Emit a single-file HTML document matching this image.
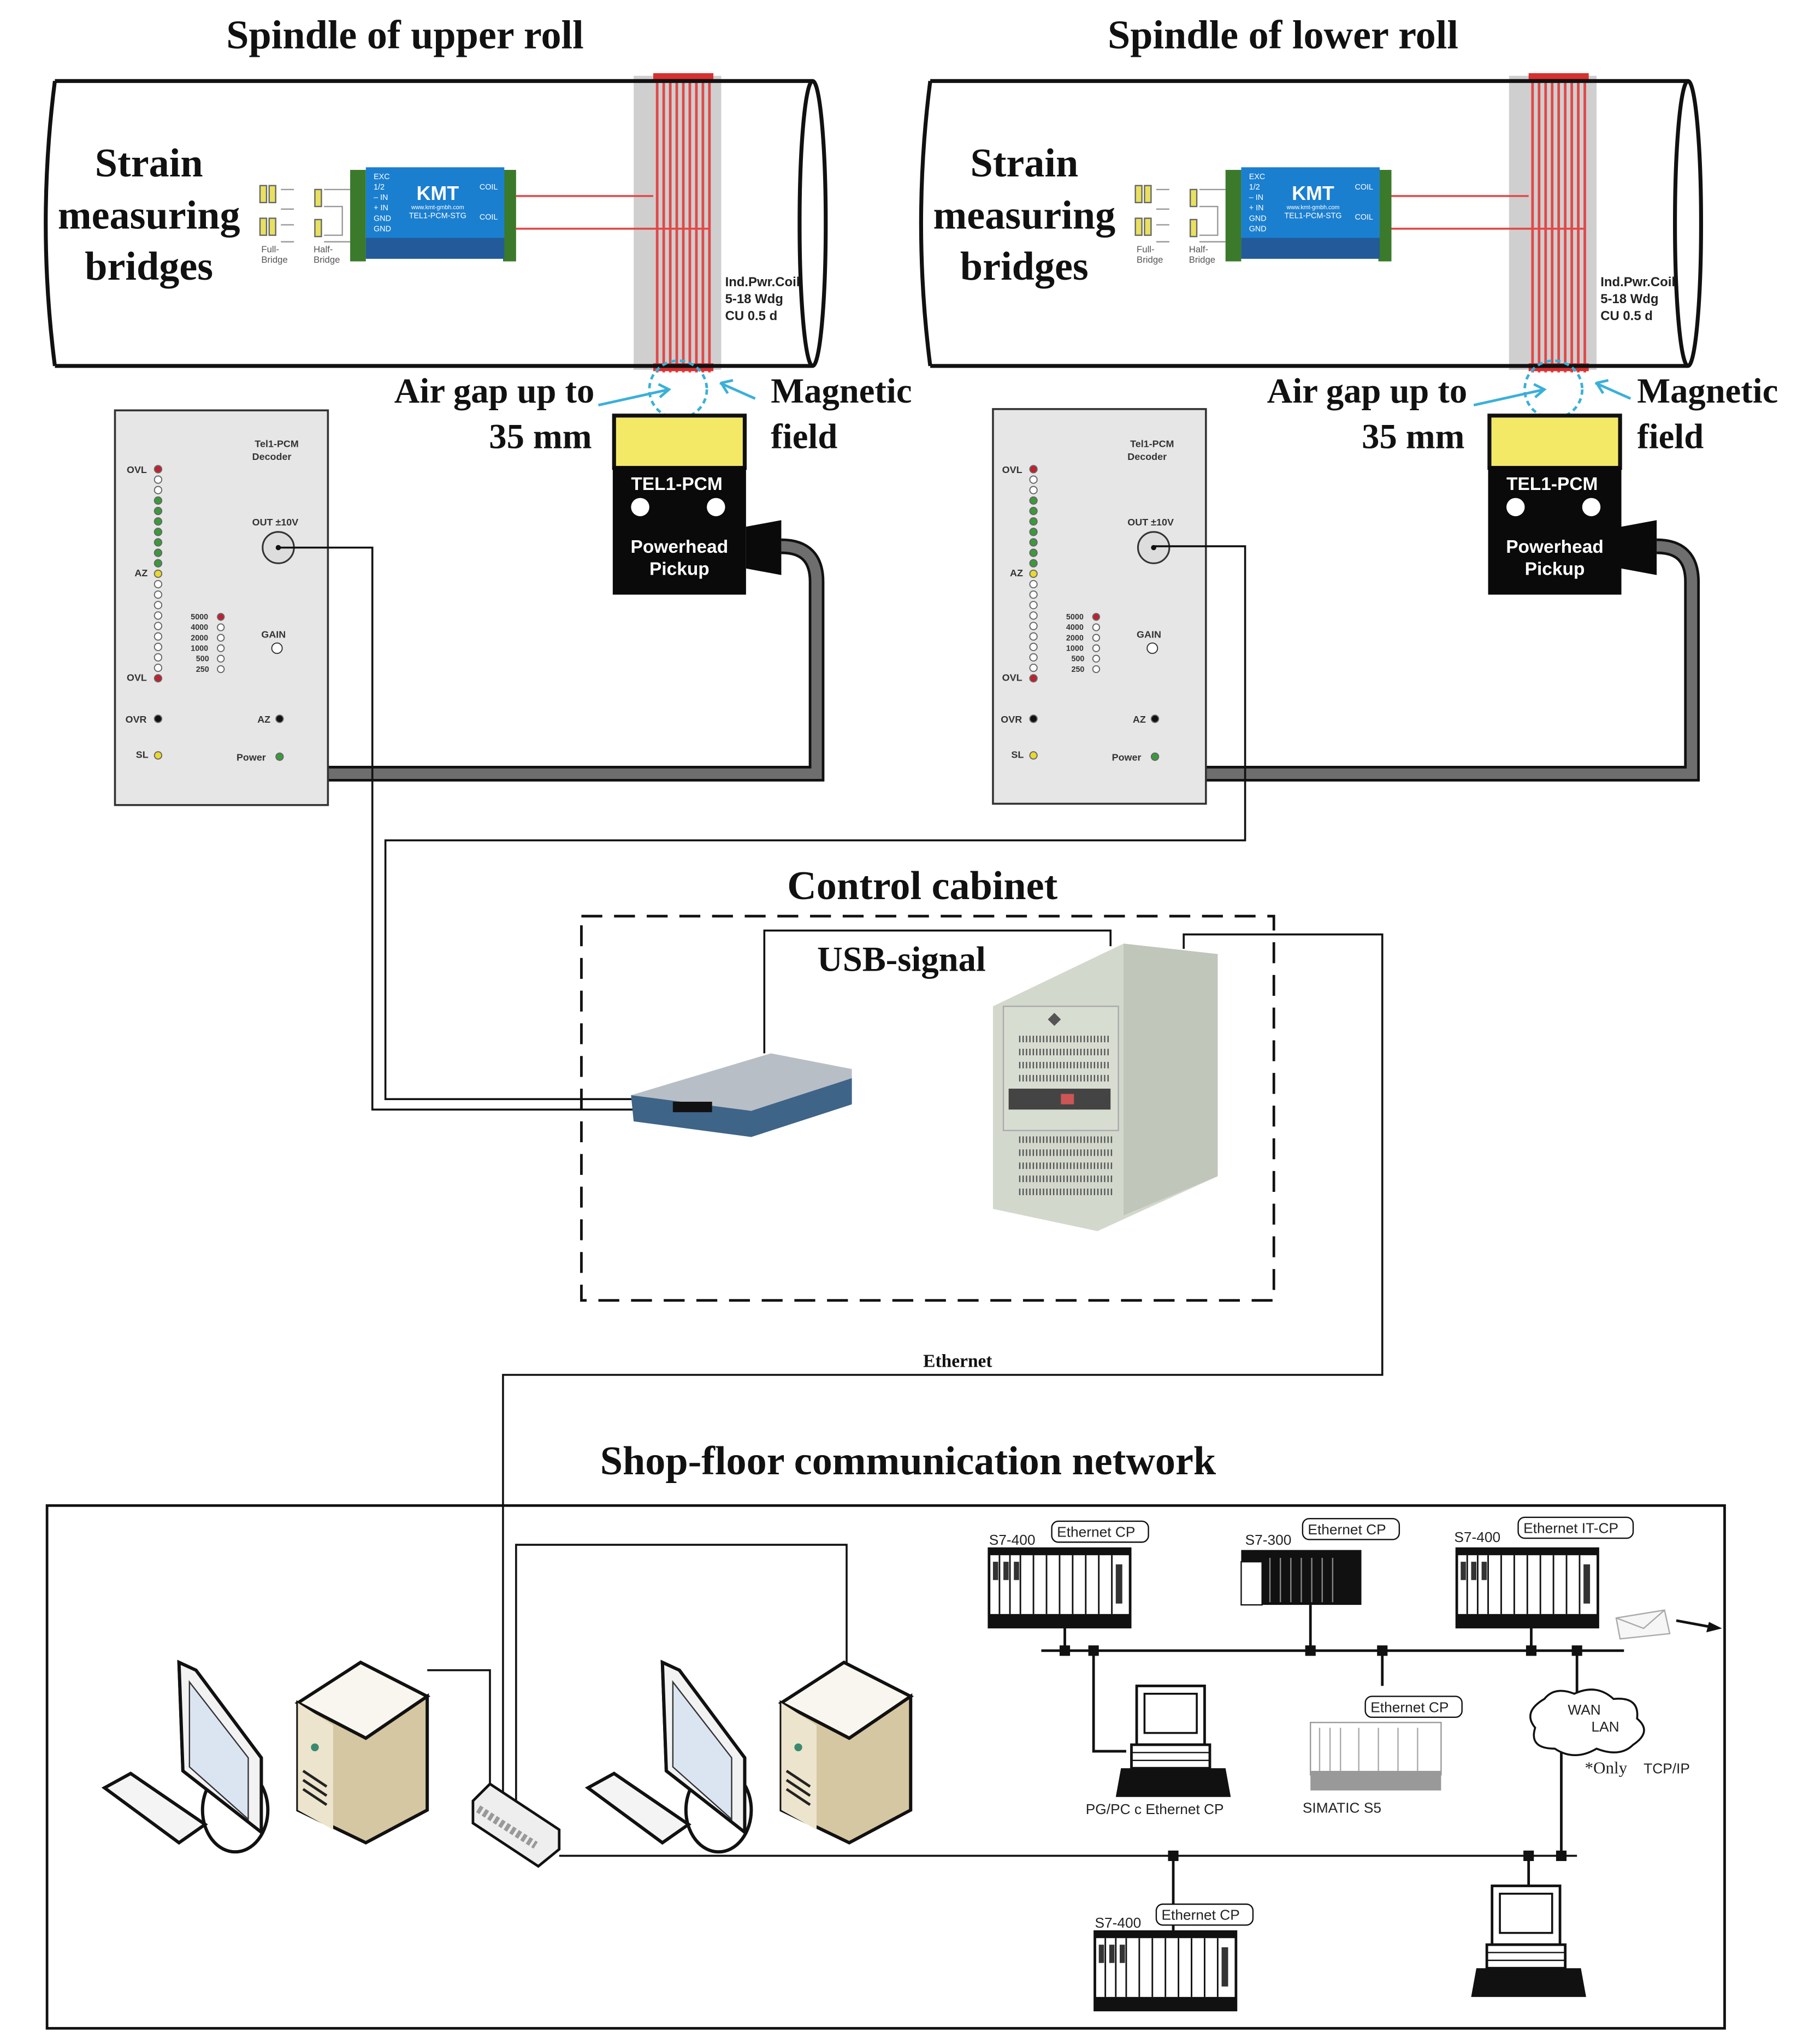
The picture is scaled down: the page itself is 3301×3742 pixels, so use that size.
<!DOCTYPE html>
<html><head><meta charset="utf-8"><style>html,body{margin:0;padding:0;background:#fff}svg{display:block}</style></head>
<body>
<svg width="3301" height="3742" viewBox="0 0 1380 1564" preserveAspectRatio="none" xmlns="http://www.w3.org/2000/svg" font-family="Liberation Sans, sans-serif">
<defs>
<g id="rack"><rect x="0" y="0" width="108" height="60" fill="#fff" stroke="#111" stroke-width="2"/><rect x="0" y="0" width="108" height="5" fill="#111"/><rect x="0" y="50" width="108" height="10" fill="#111"/>
<path d="M8 5V50M16 5V50M24 5V50M34 5V50M44 5V50M54 5V50M64 5V50M74 5V50M84 5V50M94 5V50" stroke="#111" stroke-width="1.2"/>
<rect x="3" y="10" width="4" height="14" fill="#333"/><rect x="11" y="10" width="4" height="14" fill="#333"/><rect x="19" y="10" width="4" height="14" fill="#333"/><rect x="97" y="12" width="5" height="30" fill="#333"/></g>
<g id="oldpc"><rect x="12" y="0" width="52" height="45" fill="#fff" stroke="#111" stroke-width="2"/><rect x="18" y="6" width="40" height="30" fill="#fff" stroke="#111" stroke-width="1.5"/><rect x="8" y="45" width="60" height="18" fill="#fff" stroke="#111" stroke-width="2"/><path d="M8 51H68M8 57H68" stroke="#111"/><polygon points="0,63 80,63 84,85 -4,85" fill="#111"/></g>
</defs>

<!-- titles -->
<g font-family="Liberation Serif, serif" font-weight="bold" fill="#111">
<text x="310" y="37" font-size="31" text-anchor="middle">Spindle of upper  roll</text>
<text x="982" y="37" font-size="31" text-anchor="middle">Spindle of lower roll</text>
</g>

<!-- UPPER ROLL -->
<g>
<rect x="485" y="58" width="67" height="225" fill="#cfcfcf"/>
<path d="M503 58V285M508 58V285M513 58V285M518 58V285M523 58V285M528 58V285M533 58V285M538 58V285M543 58V285" stroke="#e24848" stroke-width="2"/>
<rect x="500" y="56" width="46" height="6" fill="#d83030"/><rect x="500" y="278" width="46" height="6" fill="#d83030"/>
<path d="M42 62H622M42 280H622" stroke="#111" stroke-width="3"/>
<path d="M42 62Q28 171 42 280" fill="none" stroke="#111" stroke-width="3"/>
<ellipse cx="622" cy="171" rx="10" ry="109" fill="none" stroke="#111" stroke-width="3"/>
<g font-family="Liberation Serif, serif" font-weight="bold" font-size="31" fill="#111" text-anchor="middle">
<text x="114" y="135">Strain</text><text x="114" y="175">measuring</text><text x="114" y="214">bridges</text></g>
<g fill="#e8e060" stroke="#666" stroke-width="1"><rect x="199" y="142" width="5" height="13"/><rect x="206" y="142" width="5" height="13"/><rect x="199" y="167" width="5" height="13"/><rect x="206" y="167" width="5" height="13"/><rect x="241" y="145" width="5" height="13"/><rect x="241" y="168" width="5" height="13"/></g>
<path d="M215 145H225M215 160H225M215 172H225M215 185H225M248 145H268M248 158H262V180H248M248 185H268" stroke="#999" fill="none"/>
<text x="200" y="193" font-size="7" fill="#555">Full-</text><text x="240" y="193" font-size="7" fill="#555">Half-</text>
<text x="200" y="201" font-size="7" fill="#555">Bridge</text><text x="240" y="201" font-size="7" fill="#555">Bridge</text>
<rect x="268" y="130" width="12" height="70" fill="#3a7a2a"/><rect x="385" y="130" width="10" height="70" fill="#3a7a2a"/>
<rect x="280" y="128" width="106" height="70" fill="#1b7fd0"/><rect x="280" y="182" width="106" height="16" fill="#235a9a"/>
<g fill="#fff" font-size="6"><text x="286" y="137">EXC</text><text x="286" y="145">1/2</text><text x="286" y="153">– IN</text><text x="286" y="161">+ IN</text><text x="286" y="169">GND</text><text x="286" y="177">GND</text><text x="367" y="145">COIL</text><text x="367" y="168">COIL</text>
<text x="335" y="153" font-size="15" font-weight="bold" text-anchor="middle">KMT</text><text x="335" y="160" font-size="4.5" text-anchor="middle">www.kmt-gmbh.com</text><text x="335" y="167" font-size="6" text-anchor="middle">TEL1-PCM-STG</text></g>
<path d="M395 150H500M395 175H542" stroke="#e24848" stroke-width="1.5" fill="none"/>
<g font-size="10" font-weight="bold" fill="#222"><text x="555" y="219">Ind.Pwr.Coil</text><text x="555" y="232">5-18 Wdg</text><text x="555" y="245">CU 0.5 d</text></g>
<circle cx="519" cy="298" r="22" fill="none" stroke="#3ab0d8" stroke-width="2" stroke-dasharray="4 3"/>
<path d="M458 310L512 298M504 294L512 298L505 304M578 305L551 293M552 293L561 291M552 293L557 301" stroke="#3ab0d8" stroke-width="2" fill="none"/>
<g font-family="Liberation Serif, serif" font-weight="bold" font-size="27" fill="#111"><text x="455" y="308" text-anchor="end">Air gap up to</text><text x="453" y="343" text-anchor="end">35 mm</text><text x="590" y="308">Magnetic</text><text x="590" y="343">field</text></g>
<rect x="470" y="318" width="100" height="40" fill="#f4e867" stroke="#111" stroke-width="3"/>
<rect x="469" y="357" width="102" height="98" fill="#0a0a0a"/>
<text x="518" y="375" fill="#fff" font-size="14" font-weight="bold" text-anchor="middle">TEL1-PCM</text>
<circle cx="490" cy="388" r="7" fill="#fff"/><circle cx="548" cy="388" r="7" fill="#fff"/>
<text x="520" y="423" fill="#fff" font-size="14" font-weight="bold" text-anchor="middle">Powerhead</text><text x="520" y="440" fill="#fff" font-size="14" font-weight="bold" text-anchor="middle">Pickup</text>
<polygon points="571,403 598,398 598,440 571,435" fill="#0a0a0a"/>
<path d="M598 418Q625 418 625 445V592H250" fill="none" stroke="#111" stroke-width="12"/>
<path d="M598 418Q625 418 625 445V592H250" fill="none" stroke="#6e6e6e" stroke-width="8"/>
<rect x="88" y="314" width="163" height="302" fill="#e6e6e6" stroke="#333" stroke-width="1.5"/>
<g font-size="7.5" font-weight="bold" fill="#333"><text x="195" y="342">Tel1-PCM</text><text x="193" y="352">Decoder</text><text x="97" y="362">OVL</text><text x="103" y="441">AZ</text><text x="97" y="521">OVL</text><text x="193" y="402">OUT ±10V</text><text x="200" y="488">GAIN</text><text x="96" y="553">OVR</text><text x="197" y="553">AZ</text><text x="104" y="580">SL</text><text x="181" y="582">Power</text>
<text x="146" y="474" font-size="6">5000</text><text x="146" y="482" font-size="6">4000</text><text x="146" y="490" font-size="6">2000</text><text x="146" y="498" font-size="6">1000</text><text x="150" y="506" font-size="6">500</text><text x="150" y="514" font-size="6">250</text></g>
<g stroke="#666" stroke-width="0.8" fill="#fff"><circle cx="121" cy="359" r="2.8" fill="#c02030"/><circle cx="121" cy="367" r="2.8"/><circle cx="121" cy="375" r="2.8"/><circle cx="121" cy="383" r="2.8" fill="#3a9a3a"/><circle cx="121" cy="391" r="2.8" fill="#3a9a3a"/><circle cx="121" cy="399" r="2.8" fill="#3a9a3a"/><circle cx="121" cy="407" r="2.8" fill="#3a9a3a"/><circle cx="121" cy="415" r="2.8" fill="#3a9a3a"/><circle cx="121" cy="423" r="2.8" fill="#3a9a3a"/><circle cx="121" cy="431" r="2.8" fill="#3a9a3a"/><circle cx="121" cy="439" r="2.8" fill="#e8d830"/><circle cx="121" cy="447" r="2.8"/><circle cx="121" cy="455" r="2.8"/><circle cx="121" cy="463" r="2.8"/><circle cx="121" cy="471" r="2.8"/><circle cx="121" cy="479" r="2.8"/><circle cx="121" cy="487" r="2.8"/><circle cx="121" cy="495" r="2.8"/><circle cx="121" cy="503" r="2.8"/><circle cx="121" cy="511" r="2.8"/><circle cx="121" cy="519" r="2.8" fill="#c02030"/>
<circle cx="169" cy="472" r="2.6" fill="#c02030"/><circle cx="169" cy="480" r="2.6"/><circle cx="169" cy="488" r="2.6"/><circle cx="169" cy="496" r="2.6"/><circle cx="169" cy="504" r="2.6"/><circle cx="169" cy="512" r="2.6"/>
<circle cx="121" cy="550" r="2.8" fill="#111"/><circle cx="214" cy="550" r="2.8" fill="#111"/><circle cx="121" cy="578" r="2.8" fill="#e8d830"/><circle cx="214" cy="579" r="2.8" fill="#3a9a3a"/>
<circle cx="213" cy="419" r="12" fill="#ddd" stroke="#333" stroke-width="1.3"/><circle cx="212" cy="496" r="4" stroke="#333"/></g>
<circle cx="213" cy="419" r="2" fill="#111"/>
</g>

<!-- LOWER ROLL -->
<g transform="translate(670,0)">
<rect x="485" y="58" width="67" height="225" fill="#cfcfcf"/>
<path d="M503 58V285M508 58V285M513 58V285M518 58V285M523 58V285M528 58V285M533 58V285M538 58V285M543 58V285" stroke="#e24848" stroke-width="2"/>
<rect x="500" y="56" width="46" height="6" fill="#d83030"/><rect x="500" y="278" width="46" height="6" fill="#d83030"/>
<path d="M42 62H622M42 280H622" stroke="#111" stroke-width="3"/>
<path d="M42 62Q28 171 42 280" fill="none" stroke="#111" stroke-width="3"/>
<ellipse cx="622" cy="171" rx="10" ry="109" fill="none" stroke="#111" stroke-width="3"/>
<g font-family="Liberation Serif, serif" font-weight="bold" font-size="31" fill="#111" text-anchor="middle">
<text x="114" y="135">Strain</text><text x="114" y="175">measuring</text><text x="114" y="214">bridges</text></g>
<g fill="#e8e060" stroke="#666" stroke-width="1"><rect x="199" y="142" width="5" height="13"/><rect x="206" y="142" width="5" height="13"/><rect x="199" y="167" width="5" height="13"/><rect x="206" y="167" width="5" height="13"/><rect x="241" y="145" width="5" height="13"/><rect x="241" y="168" width="5" height="13"/></g>
<path d="M215 145H225M215 160H225M215 172H225M215 185H225M248 145H268M248 158H262V180H248M248 185H268" stroke="#999" fill="none"/>
<text x="200" y="193" font-size="7" fill="#555">Full-</text><text x="240" y="193" font-size="7" fill="#555">Half-</text>
<text x="200" y="201" font-size="7" fill="#555">Bridge</text><text x="240" y="201" font-size="7" fill="#555">Bridge</text>
<rect x="268" y="130" width="12" height="70" fill="#3a7a2a"/><rect x="385" y="130" width="10" height="70" fill="#3a7a2a"/>
<rect x="280" y="128" width="106" height="70" fill="#1b7fd0"/><rect x="280" y="182" width="106" height="16" fill="#235a9a"/>
<g fill="#fff" font-size="6"><text x="286" y="137">EXC</text><text x="286" y="145">1/2</text><text x="286" y="153">– IN</text><text x="286" y="161">+ IN</text><text x="286" y="169">GND</text><text x="286" y="177">GND</text><text x="367" y="145">COIL</text><text x="367" y="168">COIL</text>
<text x="335" y="153" font-size="15" font-weight="bold" text-anchor="middle">KMT</text><text x="335" y="160" font-size="4.5" text-anchor="middle">www.kmt-gmbh.com</text><text x="335" y="167" font-size="6" text-anchor="middle">TEL1-PCM-STG</text></g>
<path d="M395 150H500M395 175H542" stroke="#e24848" stroke-width="1.5" fill="none"/>
<g font-size="10" font-weight="bold" fill="#222"><text x="555" y="219">Ind.Pwr.Coil</text><text x="555" y="232">5-18 Wdg</text><text x="555" y="245">CU 0.5 d</text></g>
<circle cx="519" cy="298" r="22" fill="none" stroke="#3ab0d8" stroke-width="2" stroke-dasharray="4 3"/>
<path d="M458 310L512 298M504 294L512 298L505 304M578 305L551 293M552 293L561 291M552 293L557 301" stroke="#3ab0d8" stroke-width="2" fill="none"/>
<g font-family="Liberation Serif, serif" font-weight="bold" font-size="27" fill="#111"><text x="453" y="308" text-anchor="end">Air gap up to</text><text x="451" y="343" text-anchor="end">35 mm</text><text x="583" y="308">Magnetic</text><text x="583" y="343">field</text></g>
<rect x="470" y="318" width="100" height="40" fill="#f4e867" stroke="#111" stroke-width="3"/>
<rect x="469" y="357" width="102" height="98" fill="#0a0a0a"/>
<text x="518" y="375" fill="#fff" font-size="14" font-weight="bold" text-anchor="middle">TEL1-PCM</text>
<circle cx="490" cy="388" r="7" fill="#fff"/><circle cx="548" cy="388" r="7" fill="#fff"/>
<text x="520" y="423" fill="#fff" font-size="14" font-weight="bold" text-anchor="middle">Powerhead</text><text x="520" y="440" fill="#fff" font-size="14" font-weight="bold" text-anchor="middle">Pickup</text>
<polygon points="571,403 598,398 598,440 571,435" fill="#0a0a0a"/>
<path d="M598 418Q625 418 625 445V592H250" fill="none" stroke="#111" stroke-width="12"/>
<path d="M598 418Q625 418 625 445V592H250" fill="none" stroke="#6e6e6e" stroke-width="8"/>
<rect x="90" y="313" width="163" height="302" fill="#e6e6e6" stroke="#333" stroke-width="1.5"/>
<g font-size="7.5" font-weight="bold" fill="#333"><text x="195" y="342">Tel1-PCM</text><text x="193" y="352">Decoder</text><text x="97" y="362">OVL</text><text x="103" y="441">AZ</text><text x="97" y="521">OVL</text><text x="193" y="402">OUT ±10V</text><text x="200" y="488">GAIN</text><text x="96" y="553">OVR</text><text x="197" y="553">AZ</text><text x="104" y="580">SL</text><text x="181" y="582">Power</text>
<text x="146" y="474" font-size="6">5000</text><text x="146" y="482" font-size="6">4000</text><text x="146" y="490" font-size="6">2000</text><text x="146" y="498" font-size="6">1000</text><text x="150" y="506" font-size="6">500</text><text x="150" y="514" font-size="6">250</text></g>
<g stroke="#666" stroke-width="0.8" fill="#fff"><circle cx="121" cy="359" r="2.8" fill="#c02030"/><circle cx="121" cy="367" r="2.8"/><circle cx="121" cy="375" r="2.8"/><circle cx="121" cy="383" r="2.8" fill="#3a9a3a"/><circle cx="121" cy="391" r="2.8" fill="#3a9a3a"/><circle cx="121" cy="399" r="2.8" fill="#3a9a3a"/><circle cx="121" cy="407" r="2.8" fill="#3a9a3a"/><circle cx="121" cy="415" r="2.8" fill="#3a9a3a"/><circle cx="121" cy="423" r="2.8" fill="#3a9a3a"/><circle cx="121" cy="431" r="2.8" fill="#3a9a3a"/><circle cx="121" cy="439" r="2.8" fill="#e8d830"/><circle cx="121" cy="447" r="2.8"/><circle cx="121" cy="455" r="2.8"/><circle cx="121" cy="463" r="2.8"/><circle cx="121" cy="471" r="2.8"/><circle cx="121" cy="479" r="2.8"/><circle cx="121" cy="487" r="2.8"/><circle cx="121" cy="495" r="2.8"/><circle cx="121" cy="503" r="2.8"/><circle cx="121" cy="511" r="2.8"/><circle cx="121" cy="519" r="2.8" fill="#c02030"/>
<circle cx="169" cy="472" r="2.6" fill="#c02030"/><circle cx="169" cy="480" r="2.6"/><circle cx="169" cy="488" r="2.6"/><circle cx="169" cy="496" r="2.6"/><circle cx="169" cy="504" r="2.6"/><circle cx="169" cy="512" r="2.6"/>
<circle cx="121" cy="550" r="2.8" fill="#111"/><circle cx="214" cy="550" r="2.8" fill="#111"/><circle cx="121" cy="578" r="2.8" fill="#e8d830"/><circle cx="214" cy="579" r="2.8" fill="#3a9a3a"/>
<circle cx="213" cy="419" r="12" fill="#ddd" stroke="#333" stroke-width="1.3"/><circle cx="212" cy="496" r="4" stroke="#333"/></g>
<circle cx="213" cy="419" r="2" fill="#111"/>
</g>

<!-- signal wires -->
<g fill="none" stroke="#111" stroke-width="1.5">
<path d="M213 419H285V849H485"/>
<path d="M883 418H953V643H295V841H485"/>
<path d="M585 806V712H850V724"/>
<path d="M906 726V715H1058V1052H385V1380"/>
<path d="M395 1385V1182H648V1275"/>
<path d="M327 1278H375V1372"/>
<path d="M428 1420H1207"/>
</g>

<!-- control cabinet -->
<text x="706" y="688" font-family="Liberation Serif, serif" font-weight="bold" font-size="31" text-anchor="middle" fill="#111">Control cabinet</text>
<rect x="445" y="701" width="530" height="294" fill="none" stroke="#111" stroke-width="2" stroke-dasharray="16 9"/>
<text x="690" y="743" font-family="Liberation Serif, serif" font-weight="bold" font-size="27" text-anchor="middle" fill="#111">USB-signal</text>
<polygon points="483,838 590,806 652,818 652,845 575,870 485,858" fill="#b8bec6"/>
<polygon points="483,838 575,850 652,825 652,845 575,870 485,858" fill="#3e6488"/>
<rect x="515" y="843" width="30" height="8" fill="#111"/>
<polygon points="760,770 860,722 932,730 932,900 840,942 760,925" fill="#d2d8cc"/>
<polygon points="860,722 932,730 932,900 860,930" fill="#c0c6ba"/>
<rect x="768" y="770" width="88" height="95" fill="#d8ddd2" stroke="#aaa"/>
<path d="M780 795H850M780 805H850M780 815H850M780 825H850M780 872H852M780 882H852M780 892H852M780 902H852M780 912H852" stroke="#555" stroke-width="5" stroke-dasharray="1 1.6"/>
<rect x="772" y="833" width="78" height="16" fill="#444"/><rect x="812" y="837" width="10" height="8" fill="#c55"/>
<polygon points="807,775 812,780 807,785 802,780" fill="#555"/>

<text x="733" y="1046" font-family="Liberation Serif, serif" font-weight="bold" font-size="14" text-anchor="middle" fill="#111">Ethernet</text>
<text x="695" y="1128" font-family="Liberation Serif, serif" font-weight="bold" font-size="31" text-anchor="middle" fill="#111">Shop-floor communication network</text>
<rect x="36" y="1152" width="1284" height="400" fill="none" stroke="#111" stroke-width="2"/>

<!-- office computers -->
<g id="ws1">
<polygon points="137,1272 150,1278 200,1345 200,1402 140,1355" fill="#f2f2f2" stroke="#111" stroke-width="2.5"/>
<polygon points="145,1287 190,1345 190,1392 145,1352" fill="#dbe5f2" stroke="#333"/>
<ellipse cx="180" cy="1385" rx="25" ry="32" fill="#fff" stroke="#111" stroke-width="2.5"/>
<polygon points="137,1272 150,1278 200,1345 200,1402 140,1355" fill="#f2f2f2" stroke="#111" stroke-width="2.5"/>
<polygon points="145,1287 190,1345 190,1392 145,1352" fill="#dbe5f2" stroke="#333"/>
<polygon points="80,1368 100,1357 157,1396 137,1410" fill="#f4f4f4" stroke="#111" stroke-width="2.5"/>
<polygon points="228,1303 276,1272 327,1298 280,1330" fill="#f8f6ee" stroke="#111" stroke-width="2.5"/>
<polygon points="228,1303 280,1330 327,1298 327,1385 280,1410 228,1385" fill="#d5c7a2" stroke="#111" stroke-width="2.5"/>
<polygon points="228,1303 255,1320 255,1400 228,1385" fill="#ece4cc"/>
<circle cx="241" cy="1337" r="3" fill="#3a8a70"/>
<path d="M232 1355L250 1367M232 1362L250 1374M232 1369L250 1381" stroke="#222" stroke-width="2"/>
</g>
<g transform="translate(370,0)">
<polygon points="137,1272 150,1278 200,1345 200,1402 140,1355" fill="#f2f2f2" stroke="#111" stroke-width="2.5"/>
<ellipse cx="180" cy="1385" rx="25" ry="32" fill="#fff" stroke="#111" stroke-width="2.5"/>
<polygon points="137,1272 150,1278 200,1345 200,1402 140,1355" fill="#f2f2f2" stroke="#111" stroke-width="2.5"/>
<polygon points="145,1287 190,1345 190,1392 145,1352" fill="#dbe5f2" stroke="#333"/>
<polygon points="80,1368 100,1357 157,1396 137,1410" fill="#f4f4f4" stroke="#111" stroke-width="2.5"/>
<polygon points="228,1303 276,1272 327,1298 280,1330" fill="#f8f6ee" stroke="#111" stroke-width="2.5"/>
<polygon points="228,1303 280,1330 327,1298 327,1385 280,1410 228,1385" fill="#d5c7a2" stroke="#111" stroke-width="2.5"/>
<polygon points="228,1303 255,1320 255,1400 228,1385" fill="#ece4cc"/>
<circle cx="241" cy="1337" r="3" fill="#3a8a70"/>
<path d="M232 1355L250 1367M232 1362L250 1374M232 1369L250 1381" stroke="#222" stroke-width="2"/>
</g>
<polygon points="362,1378 375,1365 428,1400 428,1415 412,1428 362,1395" fill="#eee" stroke="#111" stroke-width="2"/>
<path d="M366 1384L410 1412" stroke="#999" stroke-width="6" stroke-dasharray="3 2"/>

<!-- industrial network -->
<g fill="none" stroke="#111" stroke-width="2">
<path d="M797 1263H1243"/>
<path d="M815 1245V1263M837 1263V1340H862M1003 1228V1263M1058 1263V1290M1172 1245V1263M1207 1263V1295M1195 1340V1420M898 1420V1483M1170 1420V1446"/>
</g>
<g fill="#111"><rect x="811" y="1259" width="8" height="8"/><rect x="833" y="1259" width="8" height="8"/><rect x="999" y="1259" width="8" height="8"/><rect x="1054" y="1259" width="8" height="8"/><rect x="1168" y="1259" width="8" height="8"/><rect x="1203" y="1259" width="8" height="8"/><rect x="894" y="1416" width="8" height="8"/><rect x="1166" y="1416" width="8" height="8"/><rect x="1191" y="1416" width="8" height="8"/></g>
<use href="#rack" x="757" y="1185"/>
<use href="#rack" x="1115" y="1185"/>
<use href="#rack" x="838" y="1478"/>
<rect x="950" y="1186" width="92" height="42" fill="#111"/><rect x="950" y="1195" width="16" height="33" fill="#fff" stroke="#111"/>
<path d="M972 1192V1226M980 1192V1226M988 1192V1226M996 1192V1226M1004 1192V1226M1012 1192V1226M1020 1192V1226" stroke="#888" stroke-width="1"/>
<rect x="1003" y="1318" width="100" height="40" fill="#fff" stroke="#999"/><rect x="1003" y="1355" width="100" height="15" fill="#999"/>
<path d="M1010 1322V1355M1018 1322V1355M1026 1322V1355M1040 1322V1355M1055 1322V1355M1070 1322V1355M1085 1322V1355" stroke="#aaa"/>
<use href="#oldpc" x="858" y="1290"/>
<use href="#oldpc" x="1130" y="1443"/>
<path d="M1182 1300Q1190 1290 1205 1296Q1222 1288 1235 1300Q1255 1298 1253 1315Q1265 1325 1250 1335Q1240 1345 1222 1338Q1205 1348 1190 1338Q1170 1338 1175 1322Q1165 1310 1182 1300Z" fill="#fff" stroke="#111" stroke-width="1.5"/>
<g font-size="11" fill="#222"><text x="1200" y="1312">WAN</text><text x="1218" y="1325">LAN</text>
<text x="757" y="1182">S7-400</text><text x="953" y="1182">S7-300</text><text x="1113" y="1180">S7-400</text><text x="838" y="1475">S7-400</text>
<text x="831" y="1388">PG/PC c Ethernet CP</text><text x="997" y="1387">SIMATIC S5</text><text x="1258" y="1357">TCP/IP</text></g>
<text x="1213" y="1357" font-family="Liberation Serif, serif" font-size="13" fill="#222">*Only</text>
<g font-size="11" fill="#222" stroke="#111" stroke-width="1">
<rect x="805" y="1164" width="74" height="16" rx="5" fill="#fff"/><rect x="997" y="1162" width="74" height="16" rx="5" fill="#fff"/><rect x="1162" y="1161" width="88" height="16" rx="5" fill="#fff"/><rect x="1045" y="1298" width="74" height="16" rx="5" fill="#fff"/><rect x="885" y="1457" width="74" height="16" rx="5" fill="#fff"/></g>
<g font-size="11" fill="#222"><text x="809" y="1176">Ethernet CP</text><text x="1001" y="1174">Ethernet CP</text><text x="1166" y="1173">Ethernet IT-CP</text><text x="1049" y="1310">Ethernet CP</text><text x="889" y="1469">Ethernet CP</text></g>
<polygon points="1237,1238 1274,1232 1278,1250 1240,1254" fill="#f6f6f6" stroke="#aaa"/><path d="M1237 1238L1258 1246L1274 1232" stroke="#aaa" fill="none"/>
<path d="M1283 1240L1310 1245" stroke="#111" stroke-width="2"/><polygon points="1318,1246 1306,1249 1308,1241" fill="#111"/>
</svg>
</body></html>
